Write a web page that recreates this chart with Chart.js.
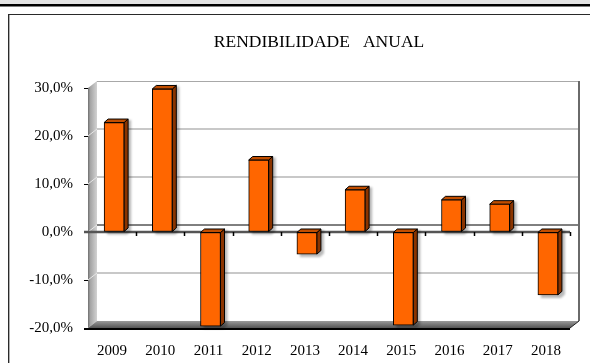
<!DOCTYPE html>
<html>
<head>
<meta charset="utf-8">
<script src="https://cdn.jsdelivr.net/npm/chart.js@4.4.1/dist/chart.umd.min.js"></script>
<style>
  html, body { margin: 0; padding: 0; background: #fff; }
  #wrap { width: 590px; height: 363px; }
</style>
</head>
<body>
<div id="wrap"><canvas id="chart" width="590" height="363"></canvas></div>
<script>
const years = ["2009", "2010", "2011", "2012", "2013", "2014", "2015", "2016", "2017", "2018"];
const returns = [22.8, 29.8, -19.6, 15.0, -4.6, 8.8, -19.4, 6.7, 5.8, -13.1];
const yMin = -20;
const yMax = 30;
const yStep = 10;
const chartTitle = "RENDIBILIDADE   ANUAL";

const serif = "'Liberation Serif', 'Times New Roman', serif";

// depth of the back wall and of each column
const WALL_DX = 9, WALL_DY = -7;
const BAR_DX = 4, BAR_DY = -3.5;
const BAR_SHIFT = 2;

function pct(v) {
  return v.toFixed(1).replace(".", ",") + "%";
}

const frame = {
  id: "frame",
  beforeDraw(chart) {
    const ctx = chart.ctx;
    ctx.save();
    ctx.fillStyle = "#e4e4e4";
    ctx.fillRect(0, 0, 590, 4);
    ctx.fillStyle = "#000";
    ctx.fillRect(0, 4, 590, 2.5);
    // border of the chart box
    ctx.fillStyle = "#2a2a2a";
    ctx.fillRect(8, 14, 582, 1);
    ctx.fillRect(8, 14, 1, 349);
    ctx.fillStyle = "#b0b0b0";
    ctx.fillRect(9, 15, 1, 348);
    // title, centred over the whole box
    ctx.fillStyle = "#000";
    ctx.font = "17.5px " + serif;
    ctx.textAlign = "center";
    ctx.textBaseline = "middle";
    ctx.fillText(chartTitle, 319, 42);
    ctx.restore();
  }
};

const walls = {
  id: "walls",
  beforeDatasetsDraw(chart) {
    const ctx = chart.ctx;
    const a = chart.chartArea;
    const y = chart.scales.y;
    const L = a.left, R = a.right, T = a.top, B = a.bottom;
    ctx.save();

    // back wall
    ctx.fillStyle = "#fff";
    ctx.fillRect(L + WALL_DX, T + WALL_DY, R - L, B - T);

    // left wall
    const g = ctx.createLinearGradient(L, 0, L + WALL_DX, 0);
    g.addColorStop(0, "#6e6e6e");
    g.addColorStop(0.25, "#a4a4a4");
    g.addColorStop(1, "#d2d2d2");
    ctx.fillStyle = g;
    ctx.beginPath();
    ctx.moveTo(L, T);
    ctx.lineTo(L + WALL_DX, T + WALL_DY);
    ctx.lineTo(L + WALL_DX, B + WALL_DY);
    ctx.lineTo(L, B);
    ctx.closePath();
    ctx.fill();

    // gridlines on the back wall
    for (let v = yMin + yStep; v < yMax; v += yStep) {
      const py = y.getPixelForValue(v);
      ctx.strokeStyle = v === 0 ? "#000" : "#c8c8c8";
      ctx.lineWidth = v === 0 ? 1 : 2;
      ctx.beginPath();
      ctx.moveTo(L + WALL_DX, py + WALL_DY);
      ctx.lineTo(R + WALL_DX, py + WALL_DY);
      ctx.stroke();
      ctx.strokeStyle = "#e6e6e6";
      ctx.lineWidth = 1;
      ctx.beginPath();
      ctx.moveTo(L, py);
      ctx.lineTo(L + WALL_DX, py + WALL_DY);
      ctx.stroke();
    }
    ctx.strokeStyle = "#a8a8a8";
    ctx.lineWidth = 1;
    ctx.beginPath();
    ctx.moveTo(L + WALL_DX, T + WALL_DY + 0.5);
    ctx.lineTo(R + WALL_DX, T + WALL_DY + 0.5);
    ctx.stroke();
    ctx.strokeStyle = "#6a6a6a";
    ctx.lineWidth = 2;
    ctx.beginPath();
    ctx.moveTo(R + WALL_DX, T + WALL_DY);
    ctx.lineTo(R + WALL_DX, B + WALL_DY);
    ctx.stroke();

    // floor
    const f = ctx.createLinearGradient(0, B + WALL_DY, 0, B);
    f.addColorStop(0, "#9a9a9a");
    f.addColorStop(1, "#555");
    ctx.fillStyle = f;
    ctx.beginPath();
    ctx.moveTo(L, B);
    ctx.lineTo(L + WALL_DX, B + WALL_DY);
    ctx.lineTo(R + WALL_DX, B + WALL_DY);
    ctx.lineTo(R, B);
    ctx.closePath();
    ctx.fill();
    ctx.strokeStyle = "#222";
    ctx.lineWidth = 1;
    ctx.beginPath();
    ctx.moveTo(R, B);
    ctx.lineTo(R + WALL_DX, B + WALL_DY);
    ctx.stroke();
    ctx.fillStyle = "#000";
    ctx.fillRect(L - 4, B, R - L + 4, 2);

    // front zero axis with category ticks
    const zy = y.getPixelForValue(0);
    ctx.strokeStyle = "#555";
    ctx.lineWidth = 2.5;
    ctx.beginPath();
    ctx.moveTo(L - 4, zy);
    ctx.lineTo(R, zy);
    ctx.stroke();
    const cw = (R - L) / years.length;
    ctx.strokeStyle = "#000";
    ctx.lineWidth = 1.5;
    for (let k = 1; k <= years.length; k++) {
      const tx = Math.round(L + k * cw) + 0.5;
      ctx.beginPath();
      ctx.moveTo(tx, zy);
      ctx.lineTo(tx, zy + 4);
      ctx.stroke();
    }

    // shadow, side and top of every column
    const meta = chart.getDatasetMeta(0);
    meta.data.forEach(bar => {
      const p = bar.getProps(["x", "y", "base", "width"], true);
      const x0 = p.x - p.width / 2 + BAR_SHIFT;
      const x1 = p.x + p.width / 2 + BAR_SHIFT;
      const top = Math.min(p.y, p.base);
      const bot = Math.max(p.y, p.base);

      ctx.save();
      ctx.fillStyle = "rgba(0,0,0,0.28)";
      ctx.filter = "blur(1px)";
      ctx.beginPath();
      ctx.moveTo(x0 + 3, top + 3 + BAR_DY);
      ctx.lineTo(x1 + BAR_DX + 3, top + BAR_DY + 1);
      ctx.lineTo(x1 + BAR_DX + 3, bot + BAR_DY + 3);
      ctx.lineTo(x1 + 3, bot + 3);
      ctx.lineTo(x0 + 3, bot + 3);
      ctx.closePath();
      ctx.fill();
      ctx.restore();

      ctx.lineWidth = 1;
      ctx.strokeStyle = "#000";
      ctx.fillStyle = "#8a3400";
      ctx.beginPath();
      ctx.moveTo(x1, top);
      ctx.lineTo(x1 + BAR_DX, top + BAR_DY);
      ctx.lineTo(x1 + BAR_DX, bot + BAR_DY);
      ctx.lineTo(x1, bot);
      ctx.closePath();
      ctx.fill();
      ctx.stroke();

      ctx.fillStyle = "#c24e00";
      ctx.beginPath();
      ctx.moveTo(x0, top);
      ctx.lineTo(x0 + BAR_DX, top + BAR_DY);
      ctx.lineTo(x1 + BAR_DX, top + BAR_DY);
      ctx.lineTo(x1, top);
      ctx.closePath();
      ctx.fill();
      ctx.stroke();
    });

    ctx.restore();
    ctx.save();
    ctx.translate(BAR_SHIFT, 0);
  },
  afterDatasetsDraw(chart) {
    chart.ctx.restore();
  }
};

new Chart(document.getElementById("chart"), {
  type: "bar",
  data: {
    labels: years,
    datasets: [{
      data: returns,
      backgroundColor: "#ff6600",
      borderColor: "#000",
      borderWidth: 1,
      borderSkipped: false,
      barThickness: 20,
      clip: false
    }]
  },
  options: {
    responsive: false,
    animation: false,
    devicePixelRatio: 1,
    layout: { padding: { left: 20, right: 20, top: 88, bottom: 0 } },
    plugins: {
      legend: { display: false },
      tooltip: { enabled: false },
      title: { display: false }
    },
    scales: {
      x: {
        grid: { display: false },
        border: { display: false },
        ticks: {
          color: "#000",
          font: { family: serif, size: 15 },
          padding: 6,
          maxRotation: 0
        },
        afterFit(s) { s.height = 35; }
      },
      y: {
        min: yMin,
        max: yMax,
        grid: { drawOnChartArea: false, drawTicks: true, tickLength: 4, color: "#000" },
        border: { display: false },
        ticks: {
          stepSize: yStep,
          color: "#000",
          font: { family: serif, size: 15 },
          padding: 11,
          callback: v => pct(v)
        },
        afterFit(s) { s.width = 68; }
      }
    }
  },
  plugins: [frame, walls]
});
</script>
</body>
</html>
